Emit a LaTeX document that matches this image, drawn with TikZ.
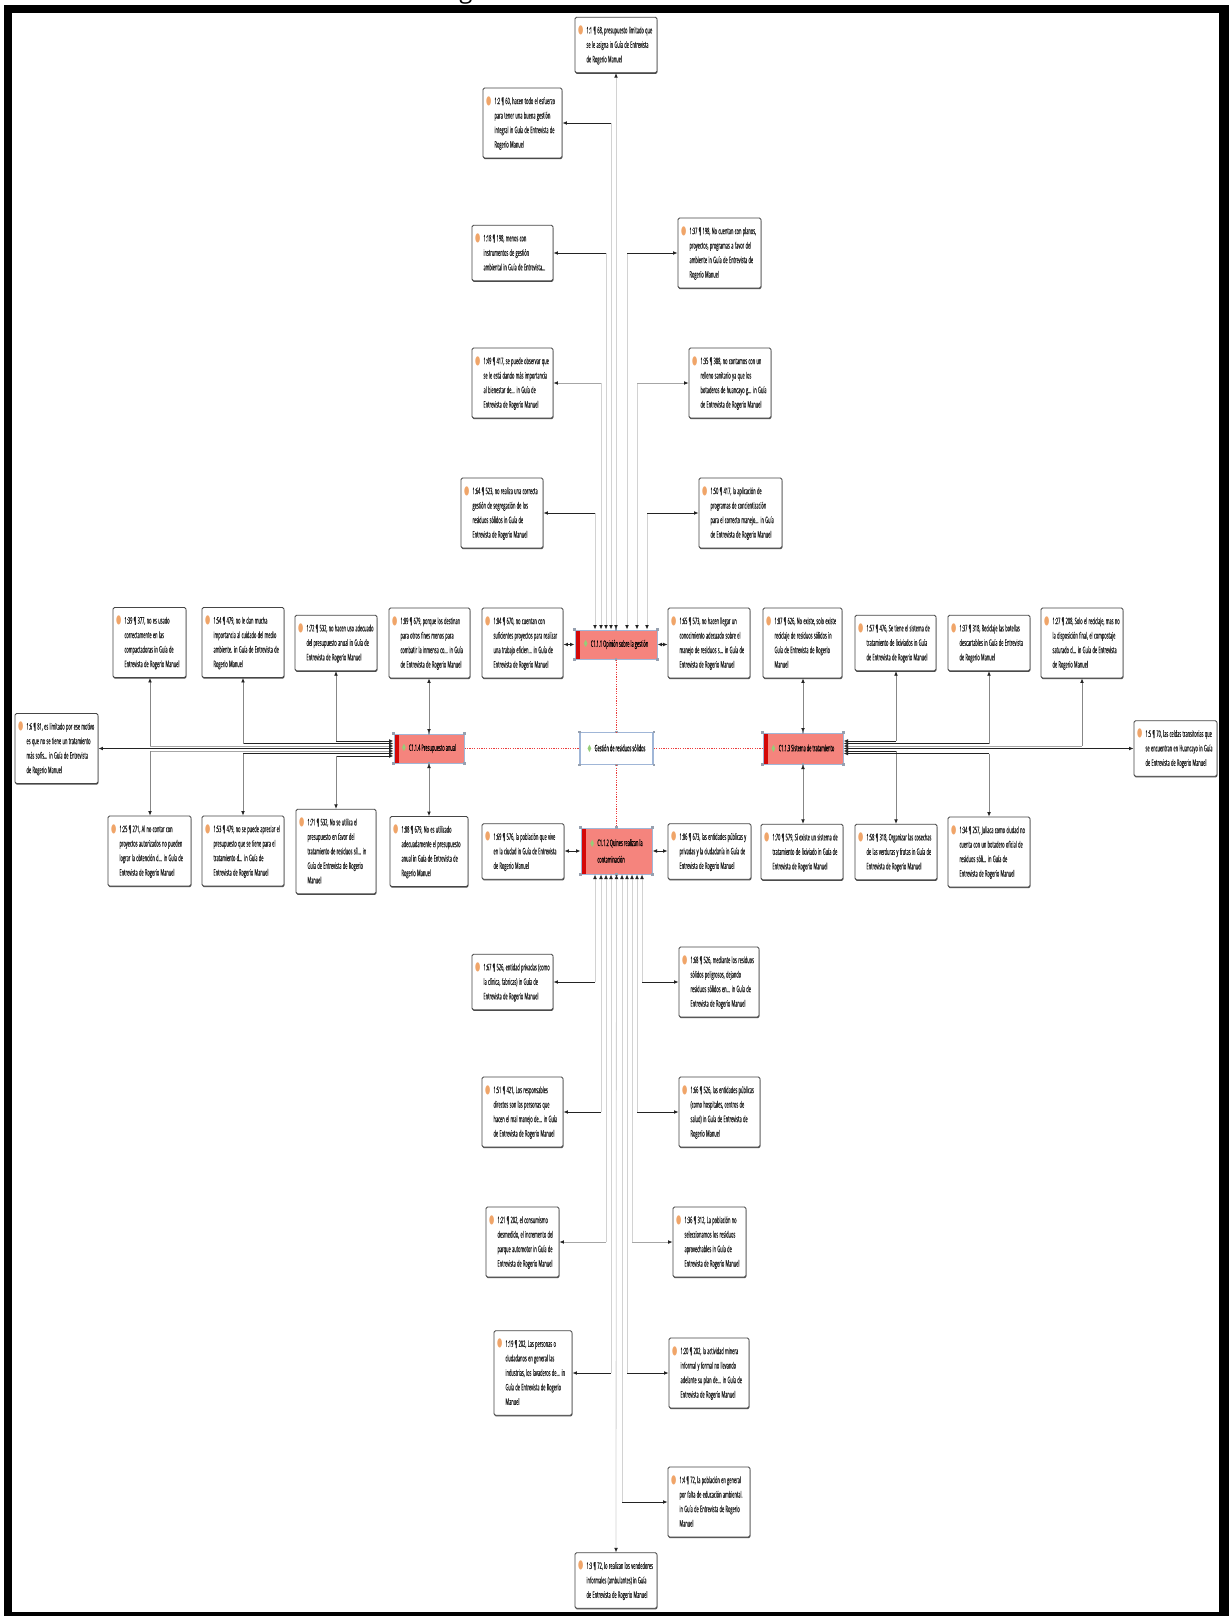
\documentclass[tikz,border=0pt]{standalone}
\usepackage{fontspec}
\usepackage{graphicx}
\setmainfont[FakeBold=0.2]{Open Sans}
\newfontfamily\qsym[FakeStretch=0.5]{DejaVu Sans}
\newfontfamily\ttlfont{Open Sans}
\usetikzlibrary{arrows.meta,shadows}
\definecolor{qborder}{RGB}{70,70,70}
\definecolor{qorange}{RGB}{240,165,105}
\definecolor{qtext}{RGB}{30,30,30}
\definecolor{csalmon}{RGB}{245,132,125}
\definecolor{cstripe}{RGB}{212,8,8}
\definecolor{csel}{RGB}{160,182,215}
\definecolor{cgreen}{RGB}{150,205,120}
\definecolor{lightln}{RGB}{210,210,210}
\definecolor{midln}{RGB}{135,135,135}
\definecolor{darkln}{RGB}{35,35,35}
\definecolor{reddot}{RGB}{235,60,60}
\definecolor{handlec}{RGB}{150,160,175}
\newcommand{\qfont}{\fontsize{9}{14.5}\selectfont}
\newcommand{\sq}[1]{\scalebox{0.44}[1]{#1}}
\newcommand{\qq}[1]{\makebox[8.5pt][l]{\textcolor{qorange}{\qsym\fontsize{12}{12}\selectfont ●}}\sq{\begin{tabular}[t]{@{}l@{}}#1\end{tabular}}}
\newcommand{\cd}{\makebox[7pt][l]{\textcolor{cgreen}{\qsym\fontsize{10}{10}\selectfont ◆}}}
\tikzset{
  qt/.tip={Latex[length=4.5pt,width=3.8pt,color=darkln]},
  qbox/.style={draw=qborder, fill=white, rounded corners=1.5pt, line width=0.8pt,
    inner xsep=3pt, inner ysep=6pt, align=left, text width=#1, text=qtext,
    font=\qfont,
    general shadow={fill=black!70, shadow yshift=-1.2pt, shadow xshift=0.3pt}},
  code/.style={draw=csel, line width=1pt, fill=csalmon, inner sep=0pt, text=black,
    font=\qfont,
    path picture={\fill[cstripe] (path picture bounding box.south west) rectangle ([xshift=4.5pt]path picture bounding box.north west);}},
  root/.style={draw=csel, line width=1.4pt, fill=white,
    inner sep=0pt, text=black, font=\qfont},
  hl/.style={draw=darkln, line width=0.9pt},
  hlite/.style={draw=black!35, line width=0.8pt},
  vl/.style={draw=lightln, line width=0.8pt},
  vm/.style={draw=midln, line width=0.8pt},
  reddotted/.style={draw=reddot, line width=0.8pt, dash pattern=on 1.2pt off 1.2pt},
}
\begin{document}
\begin{tikzpicture}[x=1pt,y=-1pt]
\useasboundingbox (0,0) rectangle (1229,1616);
\fill[white] (0,0) rectangle (1229,1616);
\node[font=\ttlfont\fontsize{24}{24}\selectfont, anchor=base, inner sep=0pt] (ttl) at (466,-1) {g};

% ---- top cluster
\node[qbox=76pt] (b11) at (616,45) {\qq{1:1 ¶ 68, presupuesto limitado que\\se le asigna in Guía de Entrevista\\de Rogerio Manuel}};
\node[qbox=73pt] (b12) at (522.5,123) {\qq{1:2 ¶ 60, hacen todo el esfuerzo\\para tener una buena gestión\\integral in Guía de Entrevista de\\Rogerio Manuel}};
\node[qbox=75pt] (b118) at (512.5,253) {\qq{1:18 ¶ 198, menos con\\instrumentos de gestión\\ambiental in Guía de Entrevista...}};
\node[qbox=77pt] (b137a) at (719.5,253) {\qq{1:37 ¶ 198, No cuentan con planos,\\proyectos, programas a favor del\\ambiente in Guía de Entrevista de\\Rogerio Manuel}};
\node[qbox=75pt] (b149) at (512.5,383) {\qq{1:49 ¶ 417, se puede observar que\\se le está dando más importancia\\al bienestar de... in Guía de\\Entrevista de Rogerio Manuel}};
\node[qbox=76pt] (b135) at (730,383) {\qq{1:35 ¶ 388, no contamos con un\\relleno sanitario ya que los\\botaderos de huancayo g... in Guía\\de Entrevista de Rogerio Manuel}};
\node[qbox=76pt] (b164) at (502,513) {\qq{1:64 ¶ 523, no realiza una correcta\\gestión de segregación de los\\residuos sólidos in Guía de\\Entrevista de Rogerio Manuel}};
\node[qbox=77pt] (b150) at (740.5,513) {\qq{1:50 ¶ 417, la aplicación de\\programas de concientización\\para el correcto manejo... in Guía\\de Entrevista de Rogerio Manuel}};

% ---- upper middle row
\node[qbox=67pt] (b139) at (149.5,642.5) {\qq{1:39 ¶ 377, no es usado\\correctamente en las\\compactadoras in Guía de\\Entrevista de Rogerio Manuel}};
\node[qbox=76pt] (b154) at (243,642.5) {\qq{1:54 ¶ 479, no le dan mucha\\importancia al cuidado del medio\\ambiente. in Guía de Entrevista de\\Rogerio Manuel}};
\node[qbox=76pt] (b172) at (336,643) {\qq{1:72 ¶ 532, no hacen uso adecuado\\del presupuesto anual in Guía de\\Entrevista de Rogerio Manuel}};
\node[qbox=75pt] (b189) at (429.5,643) {\qq{1:89 ¶ 679, porque los destinan\\para otros fines menos para\\combatir la inmensa co... in Guía\\de Entrevista de Rogerio Manuel}};
\node[qbox=75pt] (b184) at (522.5,643) {\qq{1:84 ¶ 670, no cuentan con\\suficientes proyectos para realizar\\una trabajo eficien... in Guía de\\Entrevista de Rogerio Manuel}};
\node[qbox=76pt] (b165) at (709,643) {\qq{1:65 ¶ 573, no hacen llegar un\\conocimiento adecuado sobre el\\manejo de residuos s... in Guía de\\Entrevista de Rogerio Manuel}};
\node[qbox=73pt] (b187) at (802.5,643) {\qq{1:87 ¶ 626, No existe, solo existe\\reciclaje de residuos sólidos in\\Guía de Entrevista de Rogerio\\Manuel}};
\node[qbox=75pt] (b157) at (895.5,643) {\qq{1:57 ¶ 476, Se tiene el sistema de\\tratamiento de lixiviados in Guía\\de Entrevista de Rogerio Manuel}};
\node[qbox=76pt] (b137b) at (989,643) {\qq{1:37 ¶ 318, Reciclaje las botellas\\descartables in Guía de Entrevista\\de Rogerio Manuel}};
\node[qbox=76pt] (b127) at (1082,643) {\qq{1:27 ¶ 208, Solo el reciclaje, mas no\\la disposición final, el compostaje\\saturado d... in Guía de Entrevista\\de Rogerio Manuel}};

% ---- centre row
\node[qbox=77pt] (b16) at (56.5,748.5) {\qq{1:6 ¶ 81, es limitado por ese motivo\\es que no se tiene un tratamiento\\más sofis... in Guía de Entrevista\\de Rogerio Manuel}};
\node[qbox=77pt] (b15) at (1175.5,748.5) {\qq{1:5 ¶ 70, las celdas transitorias que\\se encuentran en Huancayo in Guía\\de Entrevista de Rogerio Manuel}};

% ---- lower middle row
\node[qbox=77pt] (b125) at (149.5,851) {\qq{1:25 ¶ 271, Al no contar con\\proyectos autorizados no pueden\\lograr la obtención d... in Guía de\\Entrevista de Rogerio Manuel}};
\node[qbox=76pt] (b153) at (243,851) {\qq{1:53 ¶ 479, no se puede apreciar el\\presupuesto que se tiene para el\\tratamiento d... in Guía de\\Entrevista de Rogerio Manuel}};
\node[qbox=74pt] (b171) at (336,851.5) {\qq{1:71 ¶ 532, No se utiliza el\\presupuesto en favor del\\tratamiento de residuos síl... in\\Guía de Entrevista de Rogerio\\Manuel}};
\node[qbox=72pt] (b188) at (429,851.5) {\qq{1:88 ¶ 679, No es utilizado\\adecuadamente el presupuesto\\anual in Guía de Entrevista de\\Rogerio Manuel}};
\node[qbox=76pt] (b169) at (523,851.5) {\qq{1:69 ¶ 576, la población que vive\\en la ciudad in Guía de Entrevista\\de Rogerio Manuel}};
\node[qbox=77pt] (b186) at (709.5,851.5) {\qq{1:86 ¶ 673, las entidades públicas y\\privadas y la ciudadanía in Guía de\\Entrevista de Rogerio Manuel}};
\node[qbox=76pt] (b170) at (802,852) {\qq{1:70 ¶ 579, Sí existe un sistema de\\tratamiento de lixiviado in Guía de\\Entrevista de Rogerio Manuel}};
\node[qbox=76pt] (b158) at (896,852) {\qq{1:58 ¶ 318, Organizar las cosechas\\de las verduras y frutas in Guía de\\Entrevista de Rogerio Manuel}};
\node[qbox=76pt] (b134) at (989,852) {\qq{1:34 ¶ 257, Juliaca como ciudad no\\cuenta con un botadero oficial de\\residuos sóli... in Guía de\\Entrevista de Rogerio Manuel}};

% ---- bottom cluster
\node[qbox=75pt] (b167) at (512.5,982) {\qq{1:67 ¶ 526, entidad privadas (como\\la clínica, fabricas) in Guía de\\Entrevista de Rogerio Manuel}};
\node[qbox=74pt] (b168) at (719,982) {\qq{1:68 ¶ 526, mediante los residuos\\sólidos peligrosos, dejando\\residuos sólidos en... in Guía de\\Entrevista de Rogerio Manuel}};
\node[qbox=75pt] (b151) at (522.5,1112) {\qq{1:51 ¶ 421, Los responsables\\directos son las personas que\\hacen el mal manejo de... in Guía\\de Entrevista de Rogerio Manuel}};
\node[qbox=75pt] (b166) at (719.5,1112) {\qq{1:66 ¶ 526, las entidades públicas\\(como hospitales, centros de\\salud) in Guía de Entrevista de\\Rogerio Manuel}};
\node[qbox=67pt] (b121) at (522.5,1242) {\qq{1:21 ¶ 202, el consumismo\\desmedido, el incremento del\\parque automotor in Guía de\\Entrevista de Rogerio Manuel}};
\node[qbox=67pt] (b136) at (709.5,1242) {\qq{1:36 ¶ 312, La población no\\seleccionamos los residuos\\aprovechables in Guía de\\Entrevista de Rogerio Manuel}};
\node[qbox=72pt] (b119) at (533,1373) {\qq{1:19 ¶ 202, Las personas o\\ciudadanos en general las\\industrias, los lavaderos de... in\\Guía de Entrevista de Rogerio\\Manuel}};
\node[qbox=74pt] (b120) at (709,1373) {\qq{1:20 ¶ 202, la actividad minera\\informal y formal no llevando\\adelante su plan de... in Guía de\\Entrevista de Rogerio Manuel}};
\node[qbox=76pt] (b14) at (709,1502) {\qq{1:4 ¶ 72, la población en general\\por falta de educación ambiental.\\in Guía de Entrevista de Rogerio\\Manuel}};
\node[qbox=76pt] (b13) at (616,1580.5) {\qq{1:3 ¶ 72, lo realizan los vendedores\\informales (ambulantes) in Guía\\de Entrevista de Rogerio Manuel}};

% ---- code nodes
\node[code, minimum width=82pt, minimum height=29pt] (c111) at (616,644.5) {\cd\sq{C1.1.1 Opinión sobre la gestión}};
\node[code, minimum width=70pt, minimum height=29pt] (c114) at (429,748.5) {\cd\sq{C1.1.4 Presupuesto anual}};
\node[root, minimum width=73pt, minimum height=32pt] (gest) at (616.5,748.5) {\cd\sq{Gestión de residuos sólidos}};
\node[code, minimum width=80pt, minimum height=31pt] (c113) at (803,748.5) {\cd\sq{C1.1.3 Sistema de tratamiento}};
\node[code, minimum width=71pt, minimum height=46pt] (c112) at (616.5,851) {\cd\sq{\renewcommand{\arraystretch}{1.15}\begin{tabular}[t]{@{}l@{}}C1.1.2 Quines realizan la\\contaminación\end{tabular}}};

\foreach \n in {c111,c112,c113,c114,gest}{
  \foreach \a in {north west,north,north east,south west,south,south east}{
    \fill[handlec] ([xshift=-1.2pt,yshift=-1.2pt]\n.\a) rectangle ([xshift=1.2pt,yshift=1.2pt]\n.\a);
  }
}

% ---- red dotted links
\draw[reddotted] (c114.east) -- (gest.west);
\draw[reddotted] (gest.east) -- (c113.west);
\draw[reddotted] (c111.south) -- (c111.south |- gest.north);
\draw[reddotted] (gest.south) -- (gest.south |- c112.north);

% ---- links of C1.1.1
\draw[vl,{qt}-{qt}] (c111.north) -- (b11.south);
\foreach \k/\x/\y/\b/\s/\h in {t12/611/123/b12/east/hl, t118/606/253/b118/east/hl, t137/627/253/b137a/west/hl, t149/601/383/b149/east/hlite, t135/637/383/b135/west/hlite, t164/595/513/b164/east/hl, t150/647/513/b150/west/hl}{
  \coordinate (\k) at (\x,\y);
  \draw[vl,{qt}-] (\k |- c111.north) -- (\k);
  \draw[\h,-{qt}] (\k) -- (\k -| \b.\s);
}
\draw[hl,{qt}-{qt}] (c111.west) -- (c111.west -| b184.east);
\draw[hl,{qt}-{qt}] (c111.east) -- (c111.east -| b165.west);

% ---- links of C1.1.2
\draw[vl,{qt}-{qt}] (c112.south) -- (b13.north);
\foreach \k/\x/\y/\b/\s/\h in {u167/595/982/b167/east/hl, u168/642/982/b168/west/hl, u151/601/1112/b151/east/hl, u166/637/1112/b166/west/hl, u121/606/1242/b121/east/hlite, u136/632/1242/b136/west/hlite, u119/611/1373/b119/east/hl, u120/627/1373/b120/west/hl, u14/622/1502/b14/west/hl}{
  \coordinate (\k) at (\x,\y);
  \draw[vl,{qt}-] (\k |- c112.south) -- (\k);
  \draw[\h,-{qt}] (\k) -- (\k -| \b.\s);
}
\draw[hl,{qt}-{qt}] (c112.west) -- (c112.west -| b169.east);
\draw[hl,{qt}-{qt}] (c112.east) -- (c112.east -| b186.west);

% ---- links of C1.1.4
\foreach \k/\x/\y/\b/\s/\h in {L72/336/741/b172/south/hl, L54/243/743.5/b154/south/hl, L39/150/746/b139/south/hlite, L25/150/751/b125/north/hlite, L53/243/753.5/b153/north/hl, L71/336/756/b171/north/hl}{
  \coordinate (\k) at (\x,\y);
  \draw[\h,{qt}-] (\k -| c114.west) -- (\k);
  \draw[vm,-{qt}] (\k) -- (\k |- \b.\s);
}
\draw[hl,{qt}-{qt}] (c114.west) -- (c114.west -| b16.east);
\draw[vm,{qt}-{qt}] (c114.north) -- (c114.north |- b189.south);
\draw[vm,{qt}-{qt}] (c114.south) -- (c114.south |- b188.north);

% ---- links of C1.1.3
\foreach \k/\x/\y/\b/\s/\h in {R57/896/741/b157/south/hl, R37/989/743.5/b137b/south/hl, R27/1082/746/b127/south/hlite, R58/896/751/b158/north/hl, R34/989/753.5/b134/north/hl}{
  \coordinate (\k) at (\x,\y);
  \draw[\h,{qt}-] (\k -| c113.east) -- (\k);
  \draw[vm,-{qt}] (\k) -- (\k |- \b.\s);
}
\draw[hl,{qt}-{qt}] (c113.east) -- (c113.east -| b15.west);
\draw[vm,{qt}-{qt}] (c113.north) -- (c113.north |- b187.south);
\draw[vm,{qt}-{qt}] (c113.south) -- (c113.south |- b170.north);

% ---- frame
\fill[black] (4,5) rectangle (1229,13);
\fill[black] (4,5) rectangle (12,1616);
\fill[black] (1219,5) rectangle (1229,1616);
\fill[black] (4,1612) rectangle (1229,1616);
\end{tikzpicture}
\end{document}
